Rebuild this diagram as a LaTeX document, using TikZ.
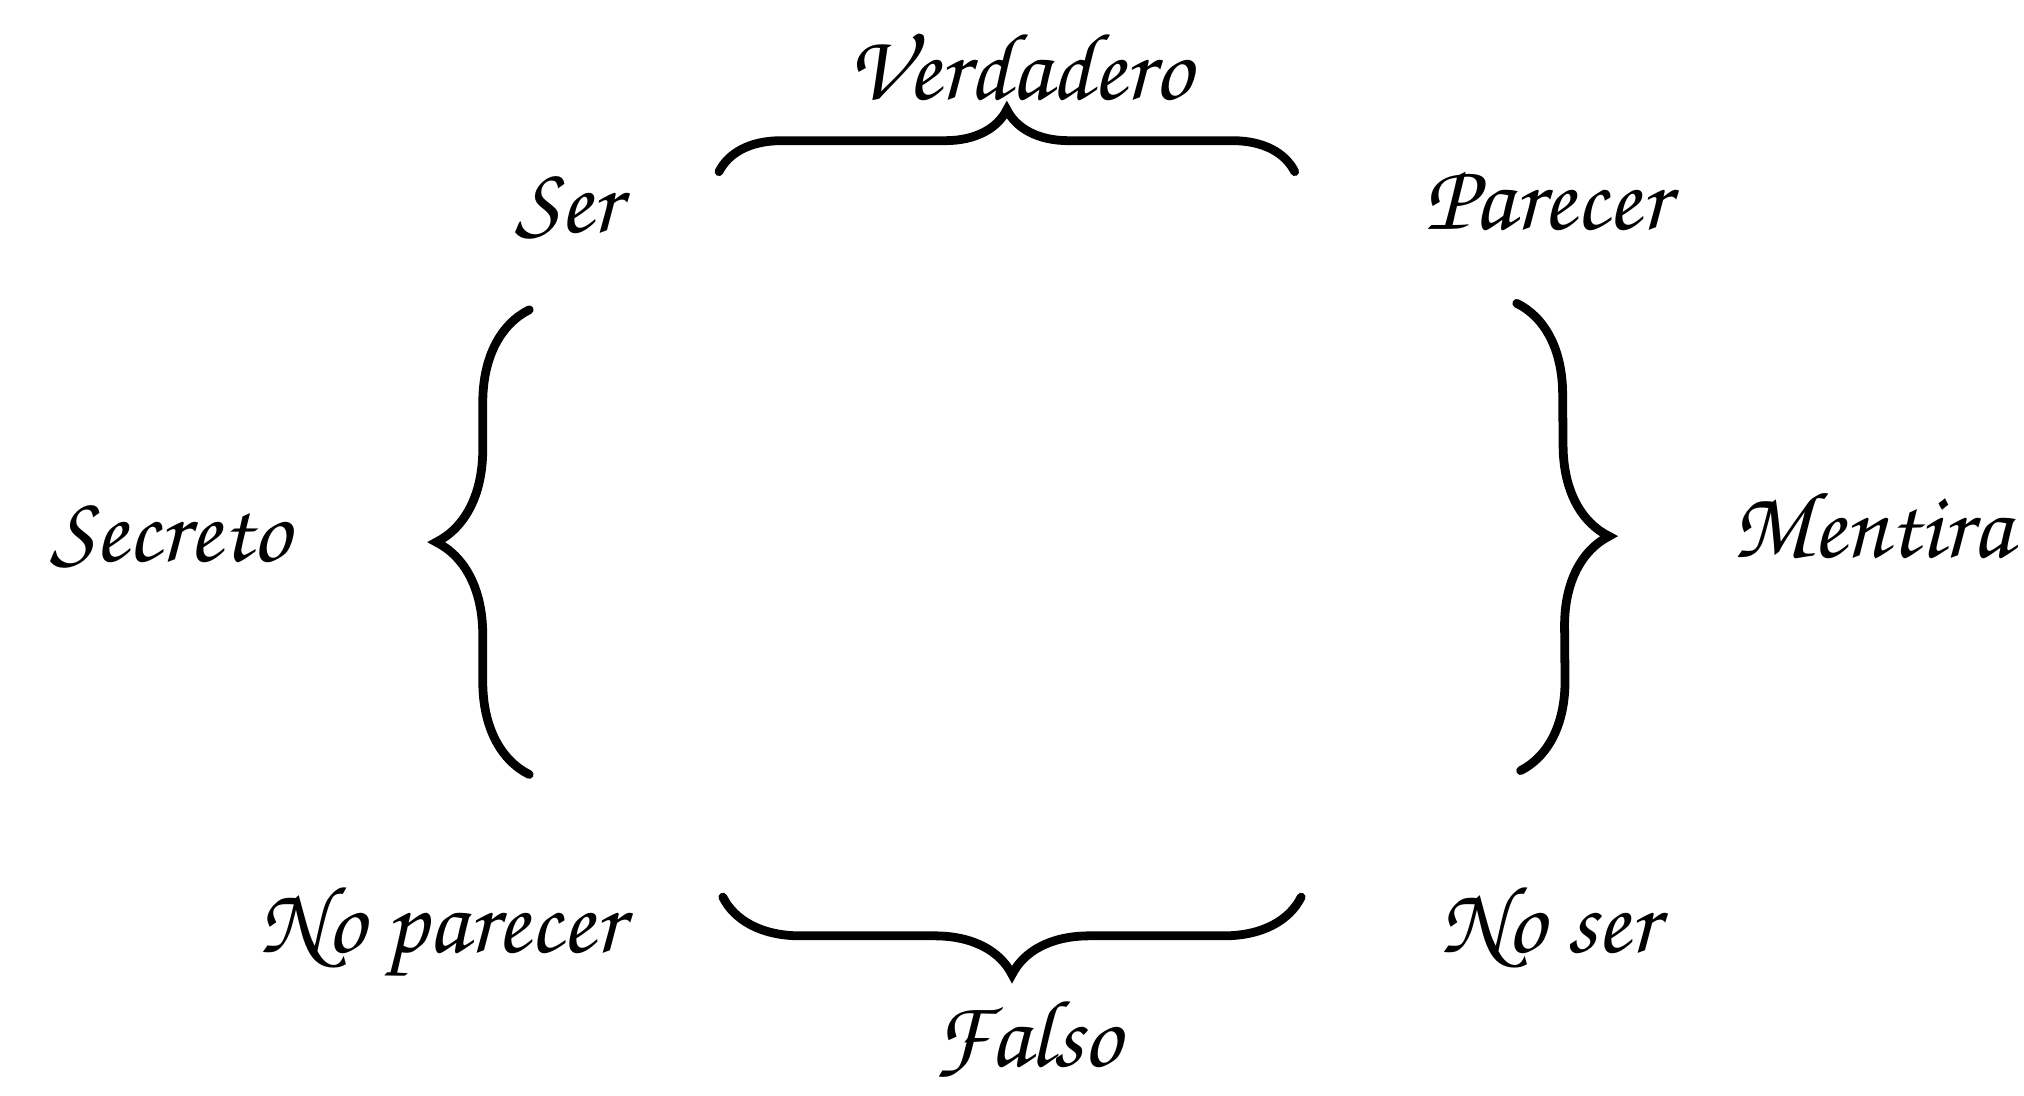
\documentclass[tikz,border=0pt]{standalone}
\usepackage[T1]{fontenc}
\usepackage{pdfrender}
\usetikzlibrary{decorations.pathreplacing}
\newcommand{\boldtxt}[1]{\textpdfrender{TextRenderingMode=FillStroke,LineWidth=0.7pt}{#1}}
\begin{document}
\begin{tikzpicture}[x=0.5pt,y=-0.5pt,
  lbl/.style={anchor=base,inner sep=0pt,font=\fontfamily{pzc}\fontseries{mb}\fontshape{it}\fontsize{37}{44}\selectfont},
  bracestyle/.style={decorate,line width=3.4pt,line cap=round,decoration={brace,amplitude=#1}}]
\useasboundingbox (0,0) rectangle (1568,849);
\node[lbl] (verd) at (790,77) {\boldtxt{Verdadero}};
\node[lbl] (ser) at (440,180) {\boldtxt{Ser}};
\node[lbl] (par) at (1198,178) {\boldtxt{Parecer}};
\node[lbl] (sec) at (132,435) {\boldtxt{Secreto}};
\node[lbl] (men) at (1450,432) {\boldtxt{Mentira}};
\node[lbl] (nopar) at (342,738) {\boldtxt{No parecer}};
\node[lbl] (noser) at (1200,738) {\boldtxt{No ser}};
\node[lbl] (fal) at (796,826) {\boldtxt{Falso}};
\coordinate (tl) at (557,133);
\coordinate (tr) at (1003,133);
\coordinate (bl) at (560,695);
\coordinate (br) at (1008,695);
\coordinate (lt) at (410,240);
\coordinate (lb) at (410,600);
\coordinate (rt) at (1175,235);
\coordinate (rb) at (1178,597);
\draw[bracestyle=48pt*0.5] (tl) -- (tr);
\draw[bracestyle=60pt*0.5] (br) -- (bl);
\draw[bracestyle=72pt*0.5] (lb) -- (lt);
\draw[bracestyle=70pt*0.5] (rt) -- (rb);
\end{tikzpicture}
\end{document}
